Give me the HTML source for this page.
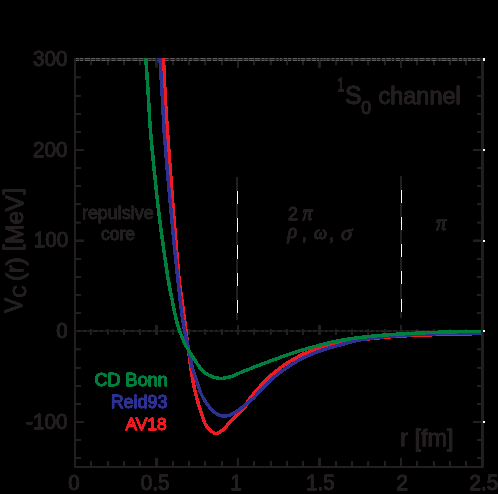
<!DOCTYPE html>
<html><head><meta charset="utf-8"><title>1S0 channel</title>
<style>html,body{margin:0;padding:0;background:#000;}body{width:498px;height:494px;overflow:hidden;}svg{display:block;will-change:transform;}text{font-family:"Liberation Sans",sans-serif;fill:#231f20;stroke:#231f20;stroke-width:0.5px;}.g{font-family:"Liberation Serif",serif;font-style:italic;}</style>
</head><body>
<svg width="498" height="494" viewBox="0 0 498 494">
<rect width="498" height="494" fill="#000"/>
<g>
<defs><filter id="hard" x="-5%" y="-5%" width="110%" height="110%" color-interpolation-filters="sRGB"><feComponentTransfer><feFuncA type="linear" slope="4" intercept="0"/></feComponentTransfer></filter><clipPath id="cp"><rect x="76" y="58" width="405.6" height="408"/></clipPath></defs>
<rect x="76" y="330.5" width="406" height="1" fill="#231f20"/>
<rect x="77.0" y="330.5" width="4.0" height="1" fill="#383536"/>
<rect x="82.5" y="330.5" width="4.0" height="1" fill="#383536"/>
<rect x="88.5" y="330.5" width="3.0" height="1" fill="#383536"/>
<rect x="93.0" y="330.5" width="5.0" height="1" fill="#383536"/>
<rect x="99.5" y="330.5" width="4.0" height="1" fill="#383536"/>
<rect x="105.5" y="330.5" width="3.0" height="1" fill="#383536"/>
<rect x="110.5" y="330.5" width="3.0" height="1" fill="#383536"/>
<rect x="115.0" y="330.5" width="3.0" height="1" fill="#383536"/>
<rect x="120.0" y="330.5" width="4.0" height="1" fill="#383536"/>
<rect x="125.5" y="330.5" width="3.0" height="1" fill="#383536"/>
<rect x="130.0" y="330.5" width="5.0" height="1" fill="#383536"/>
<rect x="137.0" y="330.5" width="3.0" height="1" fill="#383536"/>
<rect x="142.0" y="330.5" width="3.0" height="1" fill="#383536"/>
<rect x="146.5" y="330.5" width="5.0" height="1" fill="#383536"/>
<rect x="153.0" y="330.5" width="5.0" height="1" fill="#383536"/>
<rect x="160.0" y="330.5" width="4.0" height="1" fill="#383536"/>
<rect x="165.5" y="330.5" width="3.0" height="1" fill="#383536"/>
<rect x="170.0" y="330.5" width="5.0" height="1" fill="#383536"/>
<rect x="176.5" y="330.5" width="4.0" height="1" fill="#383536"/>
<rect x="182.5" y="330.5" width="3.0" height="1" fill="#383536"/>
<rect x="187.5" y="330.5" width="3.0" height="1" fill="#383536"/>
<rect x="192.5" y="330.5" width="4.0" height="1" fill="#383536"/>
<rect x="198.5" y="330.5" width="3.0" height="1" fill="#383536"/>
<rect x="203.0" y="330.5" width="5.0" height="1" fill="#383536"/>
<rect x="210.0" y="330.5" width="3.0" height="1" fill="#383536"/>
<rect x="215.0" y="330.5" width="3.0" height="1" fill="#383536"/>
<rect x="220.0" y="330.5" width="3.0" height="1" fill="#383536"/>
<rect x="225.0" y="330.5" width="3.0" height="1" fill="#383536"/>
<rect x="230.0" y="330.5" width="3.0" height="1" fill="#383536"/>
<rect x="235.0" y="330.5" width="5.0" height="1" fill="#383536"/>
<rect x="242.0" y="330.5" width="4.0" height="1" fill="#383536"/>
<rect x="248.0" y="330.5" width="5.0" height="1" fill="#383536"/>
<rect x="255.0" y="330.5" width="4.0" height="1" fill="#383536"/>
<rect x="261.0" y="330.5" width="3.0" height="1" fill="#383536"/>
<rect x="265.5" y="330.5" width="3.0" height="1" fill="#383536"/>
<rect x="270.0" y="330.5" width="5.0" height="1" fill="#383536"/>
<rect x="277.0" y="330.5" width="5.0" height="1" fill="#383536"/>
<rect x="284.0" y="330.5" width="4.0" height="1" fill="#383536"/>
<rect x="290.0" y="330.5" width="4.0" height="1" fill="#383536"/>
<rect x="296.0" y="330.5" width="5.0" height="1" fill="#383536"/>
<rect x="302.5" y="330.5" width="3.0" height="1" fill="#383536"/>
<rect x="307.5" y="330.5" width="4.0" height="1" fill="#383536"/>
<rect x="313.0" y="330.5" width="4.0" height="1" fill="#383536"/>
<rect x="318.5" y="330.5" width="4.0" height="1" fill="#383536"/>
<rect x="324.5" y="330.5" width="3.0" height="1" fill="#383536"/>
<rect x="329.5" y="330.5" width="3.0" height="1" fill="#383536"/>
<rect x="334.5" y="330.5" width="5.0" height="1" fill="#383536"/>
<rect x="341.5" y="330.5" width="4.0" height="1" fill="#383536"/>
<rect x="347.5" y="330.5" width="4.0" height="1" fill="#383536"/>
<rect x="353.5" y="330.5" width="4.0" height="1" fill="#383536"/>
<rect x="359.5" y="330.5" width="4.0" height="1" fill="#383536"/>
<rect x="365.0" y="330.5" width="3.0" height="1" fill="#383536"/>
<rect x="370.0" y="330.5" width="4.0" height="1" fill="#383536"/>
<rect x="376.0" y="330.5" width="3.0" height="1" fill="#383536"/>
<rect x="380.5" y="330.5" width="4.0" height="1" fill="#383536"/>
<rect x="386.5" y="330.5" width="5.0" height="1" fill="#383536"/>
<rect x="393.5" y="330.5" width="4.0" height="1" fill="#383536"/>
<rect x="399.5" y="330.5" width="4.0" height="1" fill="#383536"/>
<rect x="405.5" y="330.5" width="4.0" height="1" fill="#383536"/>
<rect x="411.0" y="330.5" width="4.0" height="1" fill="#383536"/>
<rect x="417.0" y="330.5" width="3.0" height="1" fill="#383536"/>
<rect x="422.0" y="330.5" width="3.0" height="1" fill="#383536"/>
<rect x="427.0" y="330.5" width="3.0" height="1" fill="#383536"/>
<rect x="431.5" y="330.5" width="4.0" height="1" fill="#383536"/>
<rect x="437.0" y="330.5" width="3.0" height="1" fill="#383536"/>
<rect x="442.0" y="330.5" width="4.0" height="1" fill="#383536"/>
<rect x="448.0" y="330.5" width="3.0" height="1" fill="#383536"/>
<rect x="452.5" y="330.5" width="4.0" height="1" fill="#383536"/>
<rect x="458.5" y="330.5" width="5.0" height="1" fill="#383536"/>
<rect x="465.5" y="330.5" width="3.0" height="1" fill="#383536"/>
<rect x="470.5" y="330.5" width="5.0" height="1" fill="#383536"/>
<rect x="477.5" y="330.5" width="2.5" height="1" fill="#383536"/>
<g filter="url(#hard)" fill="#231f20">
<rect x="74.2" y="58" width="1.6" height="409.8"/>
<rect x="481.6" y="58" width="1.8" height="409.8"/>
<rect x="74.2" y="466.2" width="409.2" height="1.6"/>
<rect x="74.2" y="58" width="409.2" height="3"/>
<rect x="90.65" y="461.2" width="1.3" height="5.4"/>
<rect x="90.65" y="60.5" width="1.3" height="4.6"/>
<rect x="90.65" y="329.3" width="1.3" height="5.3"/>
<rect x="106.95" y="461.2" width="1.3" height="5.4"/>
<rect x="106.95" y="60.5" width="1.3" height="4.6"/>
<rect x="106.95" y="329.3" width="1.3" height="5.3"/>
<rect x="123.25" y="461.2" width="1.3" height="5.4"/>
<rect x="123.25" y="60.5" width="1.3" height="4.6"/>
<rect x="123.25" y="329.3" width="1.3" height="5.3"/>
<rect x="139.55" y="461.2" width="1.3" height="5.4"/>
<rect x="139.55" y="60.5" width="1.3" height="4.6"/>
<rect x="139.55" y="329.3" width="1.3" height="5.3"/>
<rect x="155.70" y="458.1" width="1.6" height="8.5"/>
<rect x="155.70" y="60.5" width="1.6" height="7"/>
<rect x="155.70" y="325" width="1.6" height="10"/>
<rect x="172.15" y="461.2" width="1.3" height="5.4"/>
<rect x="172.15" y="60.5" width="1.3" height="4.6"/>
<rect x="172.15" y="329.3" width="1.3" height="5.3"/>
<rect x="188.45" y="461.2" width="1.3" height="5.4"/>
<rect x="188.45" y="60.5" width="1.3" height="4.6"/>
<rect x="188.45" y="329.3" width="1.3" height="5.3"/>
<rect x="204.75" y="461.2" width="1.3" height="5.4"/>
<rect x="204.75" y="60.5" width="1.3" height="4.6"/>
<rect x="204.75" y="329.3" width="1.3" height="5.3"/>
<rect x="221.05" y="461.2" width="1.3" height="5.4"/>
<rect x="221.05" y="60.5" width="1.3" height="4.6"/>
<rect x="221.05" y="329.3" width="1.3" height="5.3"/>
<rect x="237.20" y="458.1" width="1.6" height="8.5"/>
<rect x="237.20" y="60.5" width="1.6" height="7"/>
<rect x="237.20" y="325" width="1.6" height="10"/>
<rect x="253.65" y="461.2" width="1.3" height="5.4"/>
<rect x="253.65" y="60.5" width="1.3" height="4.6"/>
<rect x="253.65" y="329.3" width="1.3" height="5.3"/>
<rect x="269.95" y="461.2" width="1.3" height="5.4"/>
<rect x="269.95" y="60.5" width="1.3" height="4.6"/>
<rect x="269.95" y="329.3" width="1.3" height="5.3"/>
<rect x="286.25" y="461.2" width="1.3" height="5.4"/>
<rect x="286.25" y="60.5" width="1.3" height="4.6"/>
<rect x="286.25" y="329.3" width="1.3" height="5.3"/>
<rect x="302.55" y="461.2" width="1.3" height="5.4"/>
<rect x="302.55" y="60.5" width="1.3" height="4.6"/>
<rect x="302.55" y="329.3" width="1.3" height="5.3"/>
<rect x="318.70" y="458.1" width="1.6" height="8.5"/>
<rect x="318.70" y="60.5" width="1.6" height="7"/>
<rect x="318.70" y="325" width="1.6" height="10"/>
<rect x="335.15" y="461.2" width="1.3" height="5.4"/>
<rect x="335.15" y="60.5" width="1.3" height="4.6"/>
<rect x="335.15" y="329.3" width="1.3" height="5.3"/>
<rect x="351.45" y="461.2" width="1.3" height="5.4"/>
<rect x="351.45" y="60.5" width="1.3" height="4.6"/>
<rect x="351.45" y="329.3" width="1.3" height="5.3"/>
<rect x="367.75" y="461.2" width="1.3" height="5.4"/>
<rect x="367.75" y="60.5" width="1.3" height="4.6"/>
<rect x="367.75" y="329.3" width="1.3" height="5.3"/>
<rect x="384.05" y="461.2" width="1.3" height="5.4"/>
<rect x="384.05" y="60.5" width="1.3" height="4.6"/>
<rect x="384.05" y="329.3" width="1.3" height="5.3"/>
<rect x="400.20" y="458.1" width="1.6" height="8.5"/>
<rect x="400.20" y="60.5" width="1.6" height="7"/>
<rect x="400.20" y="325" width="1.6" height="10"/>
<rect x="416.65" y="461.2" width="1.3" height="5.4"/>
<rect x="416.65" y="60.5" width="1.3" height="4.6"/>
<rect x="416.65" y="329.3" width="1.3" height="5.3"/>
<rect x="432.95" y="461.2" width="1.3" height="5.4"/>
<rect x="432.95" y="60.5" width="1.3" height="4.6"/>
<rect x="432.95" y="329.3" width="1.3" height="5.3"/>
<rect x="449.25" y="461.2" width="1.3" height="5.4"/>
<rect x="449.25" y="60.5" width="1.3" height="4.6"/>
<rect x="449.25" y="329.3" width="1.3" height="5.3"/>
<rect x="465.55" y="461.2" width="1.3" height="5.4"/>
<rect x="465.55" y="60.5" width="1.3" height="4.6"/>
<rect x="465.55" y="329.3" width="1.3" height="5.3"/>
<rect x="75.5" y="76.81" width="5.2" height="1.3"/>
<rect x="477.2" y="76.81" width="4.7" height="1.3"/>
<rect x="75.5" y="94.95" width="5.2" height="1.3"/>
<rect x="477.2" y="94.95" width="4.7" height="1.3"/>
<rect x="75.5" y="113.08" width="5.2" height="1.3"/>
<rect x="477.2" y="113.08" width="4.7" height="1.3"/>
<rect x="75.5" y="131.21" width="5.2" height="1.3"/>
<rect x="477.2" y="131.21" width="4.7" height="1.3"/>
<rect x="75.5" y="149.20" width="8.4" height="1.6"/>
<rect x="473.1" y="149.20" width="8.8" height="1.6"/>
<rect x="75.5" y="167.48" width="5.2" height="1.3"/>
<rect x="477.2" y="167.48" width="4.7" height="1.3"/>
<rect x="75.5" y="185.61" width="5.2" height="1.3"/>
<rect x="477.2" y="185.61" width="4.7" height="1.3"/>
<rect x="75.5" y="203.75" width="5.2" height="1.3"/>
<rect x="477.2" y="203.75" width="4.7" height="1.3"/>
<rect x="75.5" y="221.88" width="5.2" height="1.3"/>
<rect x="477.2" y="221.88" width="4.7" height="1.3"/>
<rect x="75.5" y="239.86" width="8.4" height="1.6"/>
<rect x="473.1" y="239.86" width="8.8" height="1.6"/>
<rect x="75.5" y="258.15" width="5.2" height="1.3"/>
<rect x="477.2" y="258.15" width="4.7" height="1.3"/>
<rect x="75.5" y="276.28" width="5.2" height="1.3"/>
<rect x="477.2" y="276.28" width="4.7" height="1.3"/>
<rect x="75.5" y="294.41" width="5.2" height="1.3"/>
<rect x="477.2" y="294.41" width="4.7" height="1.3"/>
<rect x="75.5" y="312.55" width="5.2" height="1.3"/>
<rect x="477.2" y="312.55" width="4.7" height="1.3"/>
<rect x="75.5" y="348.81" width="5.2" height="1.3"/>
<rect x="477.2" y="348.81" width="4.7" height="1.3"/>
<rect x="75.5" y="366.95" width="5.2" height="1.3"/>
<rect x="477.2" y="366.95" width="4.7" height="1.3"/>
<rect x="75.5" y="385.08" width="5.2" height="1.3"/>
<rect x="477.2" y="385.08" width="4.7" height="1.3"/>
<rect x="75.5" y="403.21" width="5.2" height="1.3"/>
<rect x="477.2" y="403.21" width="4.7" height="1.3"/>
<rect x="75.5" y="421.20" width="8.4" height="1.6"/>
<rect x="473.1" y="421.20" width="8.8" height="1.6"/>
<rect x="75.5" y="439.48" width="5.2" height="1.3"/>
<rect x="477.2" y="439.48" width="4.7" height="1.3"/>
<rect x="75.5" y="457.61" width="5.2" height="1.3"/>
<rect x="477.2" y="457.61" width="4.7" height="1.3"/>
</g>
<rect x="76.0" y="58" width="3.0" height="1" fill="#5c5c5c"/>
<rect x="80.0" y="58" width="3.0" height="1" fill="#5c5c5c"/>
<rect x="85.0" y="58" width="5.0" height="1" fill="#5c5c5c"/>
<rect x="91.0" y="58" width="4.0" height="1" fill="#5c5c5c"/>
<rect x="96.0" y="58" width="4.0" height="1" fill="#5c5c5c"/>
<rect x="101.5" y="58" width="4.0" height="1" fill="#5c5c5c"/>
<rect x="106.5" y="58" width="3.0" height="1" fill="#5c5c5c"/>
<rect x="111.5" y="58" width="4.0" height="1" fill="#5c5c5c"/>
<rect x="117.5" y="58" width="4.0" height="1" fill="#5c5c5c"/>
<rect x="122.5" y="58" width="3.0" height="1" fill="#5c5c5c"/>
<rect x="126.5" y="58" width="4.0" height="1" fill="#5c5c5c"/>
<rect x="132.5" y="58" width="5.0" height="1" fill="#5c5c5c"/>
<rect x="138.5" y="58" width="5.0" height="1" fill="#5c5c5c"/>
<rect x="144.5" y="58" width="3.0" height="1" fill="#5c5c5c"/>
<rect x="148.5" y="58" width="3.0" height="1" fill="#5c5c5c"/>
<rect x="152.5" y="58" width="3.0" height="1" fill="#5c5c5c"/>
<rect x="157.5" y="58" width="4.0" height="1" fill="#5c5c5c"/>
<rect x="163.5" y="58" width="5.0" height="1" fill="#5c5c5c"/>
<rect x="170.5" y="58" width="4.0" height="1" fill="#5c5c5c"/>
<rect x="176.5" y="58" width="3.0" height="1" fill="#5c5c5c"/>
<rect x="181.0" y="58" width="2.0" height="1" fill="#5c5c5c"/>
<rect x="184.0" y="58" width="3.0" height="1" fill="#5c5c5c"/>
<rect x="189.0" y="58" width="3.0" height="1" fill="#5c5c5c"/>
<rect x="193.5" y="58" width="5.0" height="1" fill="#5c5c5c"/>
<rect x="200.5" y="58" width="5.0" height="1" fill="#5c5c5c"/>
<rect x="207.0" y="58" width="4.0" height="1" fill="#5c5c5c"/>
<rect x="213.0" y="58" width="4.0" height="1" fill="#5c5c5c"/>
<rect x="218.5" y="58" width="4.0" height="1" fill="#5c5c5c"/>
<rect x="224.5" y="58" width="4.0" height="1" fill="#5c5c5c"/>
<rect x="229.5" y="58" width="3.0" height="1" fill="#5c5c5c"/>
<rect x="233.5" y="58" width="3.0" height="1" fill="#5c5c5c"/>
<rect x="237.5" y="58" width="5.0" height="1" fill="#5c5c5c"/>
<rect x="244.0" y="58" width="4.0" height="1" fill="#5c5c5c"/>
<rect x="249.0" y="58" width="5.0" height="1" fill="#5c5c5c"/>
<rect x="255.0" y="58" width="5.0" height="1" fill="#5c5c5c"/>
<rect x="261.5" y="58" width="3.0" height="1" fill="#5c5c5c"/>
<rect x="265.5" y="58" width="2.0" height="1" fill="#5c5c5c"/>
<rect x="269.5" y="58" width="5.0" height="1" fill="#5c5c5c"/>
<rect x="276.5" y="58" width="2.0" height="1" fill="#5c5c5c"/>
<rect x="280.0" y="58" width="2.0" height="1" fill="#5c5c5c"/>
<rect x="284.0" y="58" width="3.0" height="1" fill="#5c5c5c"/>
<rect x="288.0" y="58" width="3.0" height="1" fill="#5c5c5c"/>
<rect x="293.0" y="58" width="4.0" height="1" fill="#5c5c5c"/>
<rect x="298.0" y="58" width="2.0" height="1" fill="#5c5c5c"/>
<rect x="301.0" y="58" width="4.0" height="1" fill="#5c5c5c"/>
<rect x="306.5" y="58" width="4.0" height="1" fill="#5c5c5c"/>
<rect x="312.0" y="58" width="4.0" height="1" fill="#5c5c5c"/>
<rect x="317.0" y="58" width="2.0" height="1" fill="#5c5c5c"/>
<rect x="320.5" y="58" width="2.0" height="1" fill="#5c5c5c"/>
<rect x="323.5" y="58" width="2.0" height="1" fill="#5c5c5c"/>
<rect x="326.5" y="58" width="3.0" height="1" fill="#5c5c5c"/>
<rect x="331.5" y="58" width="3.0" height="1" fill="#5c5c5c"/>
<rect x="336.0" y="58" width="3.0" height="1" fill="#5c5c5c"/>
<rect x="340.0" y="58" width="3.0" height="1" fill="#5c5c5c"/>
<rect x="344.5" y="58" width="3.0" height="1" fill="#5c5c5c"/>
<rect x="348.5" y="58" width="4.0" height="1" fill="#5c5c5c"/>
<rect x="354.5" y="58" width="4.0" height="1" fill="#5c5c5c"/>
<rect x="360.5" y="58" width="5.0" height="1" fill="#5c5c5c"/>
<rect x="366.5" y="58" width="4.0" height="1" fill="#5c5c5c"/>
<rect x="372.0" y="58" width="4.0" height="1" fill="#5c5c5c"/>
<rect x="377.0" y="58" width="3.0" height="1" fill="#5c5c5c"/>
<rect x="382.0" y="58" width="3.0" height="1" fill="#5c5c5c"/>
<rect x="386.5" y="58" width="4.0" height="1" fill="#5c5c5c"/>
<rect x="392.0" y="58" width="2.0" height="1" fill="#5c5c5c"/>
<rect x="396.0" y="58" width="4.0" height="1" fill="#5c5c5c"/>
<rect x="401.5" y="58" width="2.0" height="1" fill="#5c5c5c"/>
<rect x="405.5" y="58" width="4.0" height="1" fill="#5c5c5c"/>
<rect x="410.5" y="58" width="2.0" height="1" fill="#5c5c5c"/>
<rect x="414.0" y="58" width="4.0" height="1" fill="#5c5c5c"/>
<rect x="419.5" y="58" width="5.0" height="1" fill="#5c5c5c"/>
<rect x="426.0" y="58" width="4.0" height="1" fill="#5c5c5c"/>
<rect x="431.5" y="58" width="5.0" height="1" fill="#5c5c5c"/>
<rect x="438.5" y="58" width="2.0" height="1" fill="#5c5c5c"/>
<rect x="441.5" y="58" width="5.0" height="1" fill="#5c5c5c"/>
<rect x="447.5" y="58" width="3.0" height="1" fill="#5c5c5c"/>
<rect x="452.0" y="58" width="5.0" height="1" fill="#5c5c5c"/>
<rect x="459.0" y="58" width="3.0" height="1" fill="#5c5c5c"/>
<rect x="463.5" y="58" width="3.0" height="1" fill="#5c5c5c"/>
<rect x="468.0" y="58" width="3.0" height="1" fill="#5c5c5c"/>
<rect x="472.5" y="58" width="3.0" height="1" fill="#5c5c5c"/>
<rect x="477.0" y="58" width="3.0" height="1" fill="#5c5c5c"/>
<rect x="76.0" y="60" width="3.0" height="1" fill="#5c5c5c"/>
<rect x="80.0" y="60" width="3.0" height="1" fill="#5c5c5c"/>
<rect x="85.0" y="60" width="5.0" height="1" fill="#5c5c5c"/>
<rect x="91.0" y="60" width="4.0" height="1" fill="#5c5c5c"/>
<rect x="96.0" y="60" width="4.0" height="1" fill="#5c5c5c"/>
<rect x="101.5" y="60" width="4.0" height="1" fill="#5c5c5c"/>
<rect x="106.5" y="60" width="3.0" height="1" fill="#5c5c5c"/>
<rect x="111.5" y="60" width="4.0" height="1" fill="#5c5c5c"/>
<rect x="117.5" y="60" width="4.0" height="1" fill="#5c5c5c"/>
<rect x="122.5" y="60" width="3.0" height="1" fill="#5c5c5c"/>
<rect x="126.5" y="60" width="4.0" height="1" fill="#5c5c5c"/>
<rect x="132.5" y="60" width="5.0" height="1" fill="#5c5c5c"/>
<rect x="138.5" y="60" width="5.0" height="1" fill="#5c5c5c"/>
<rect x="144.5" y="60" width="3.0" height="1" fill="#5c5c5c"/>
<rect x="148.5" y="60" width="3.0" height="1" fill="#5c5c5c"/>
<rect x="152.5" y="60" width="3.0" height="1" fill="#5c5c5c"/>
<rect x="157.5" y="60" width="4.0" height="1" fill="#5c5c5c"/>
<rect x="163.5" y="60" width="5.0" height="1" fill="#5c5c5c"/>
<rect x="170.5" y="60" width="4.0" height="1" fill="#5c5c5c"/>
<rect x="176.5" y="60" width="3.0" height="1" fill="#5c5c5c"/>
<rect x="181.0" y="60" width="2.0" height="1" fill="#5c5c5c"/>
<rect x="184.0" y="60" width="3.0" height="1" fill="#5c5c5c"/>
<rect x="189.0" y="60" width="3.0" height="1" fill="#5c5c5c"/>
<rect x="193.5" y="60" width="5.0" height="1" fill="#5c5c5c"/>
<rect x="200.5" y="60" width="5.0" height="1" fill="#5c5c5c"/>
<rect x="207.0" y="60" width="4.0" height="1" fill="#5c5c5c"/>
<rect x="213.0" y="60" width="4.0" height="1" fill="#5c5c5c"/>
<rect x="218.5" y="60" width="4.0" height="1" fill="#5c5c5c"/>
<rect x="224.5" y="60" width="4.0" height="1" fill="#5c5c5c"/>
<rect x="229.5" y="60" width="3.0" height="1" fill="#5c5c5c"/>
<rect x="233.5" y="60" width="3.0" height="1" fill="#5c5c5c"/>
<rect x="237.5" y="60" width="5.0" height="1" fill="#5c5c5c"/>
<rect x="244.0" y="60" width="4.0" height="1" fill="#5c5c5c"/>
<rect x="249.0" y="60" width="5.0" height="1" fill="#5c5c5c"/>
<rect x="255.0" y="60" width="5.0" height="1" fill="#5c5c5c"/>
<rect x="261.5" y="60" width="3.0" height="1" fill="#5c5c5c"/>
<rect x="265.5" y="60" width="2.0" height="1" fill="#5c5c5c"/>
<rect x="269.5" y="60" width="5.0" height="1" fill="#5c5c5c"/>
<rect x="276.5" y="60" width="2.0" height="1" fill="#5c5c5c"/>
<rect x="280.0" y="60" width="2.0" height="1" fill="#5c5c5c"/>
<rect x="284.0" y="60" width="3.0" height="1" fill="#5c5c5c"/>
<rect x="288.0" y="60" width="3.0" height="1" fill="#5c5c5c"/>
<rect x="293.0" y="60" width="4.0" height="1" fill="#5c5c5c"/>
<rect x="298.0" y="60" width="2.0" height="1" fill="#5c5c5c"/>
<rect x="301.0" y="60" width="4.0" height="1" fill="#5c5c5c"/>
<rect x="306.5" y="60" width="4.0" height="1" fill="#5c5c5c"/>
<rect x="312.0" y="60" width="4.0" height="1" fill="#5c5c5c"/>
<rect x="317.0" y="60" width="2.0" height="1" fill="#5c5c5c"/>
<rect x="320.5" y="60" width="2.0" height="1" fill="#5c5c5c"/>
<rect x="323.5" y="60" width="2.0" height="1" fill="#5c5c5c"/>
<rect x="326.5" y="60" width="3.0" height="1" fill="#5c5c5c"/>
<rect x="331.5" y="60" width="3.0" height="1" fill="#5c5c5c"/>
<rect x="336.0" y="60" width="3.0" height="1" fill="#5c5c5c"/>
<rect x="340.0" y="60" width="3.0" height="1" fill="#5c5c5c"/>
<rect x="344.5" y="60" width="3.0" height="1" fill="#5c5c5c"/>
<rect x="348.5" y="60" width="4.0" height="1" fill="#5c5c5c"/>
<rect x="354.5" y="60" width="4.0" height="1" fill="#5c5c5c"/>
<rect x="360.5" y="60" width="5.0" height="1" fill="#5c5c5c"/>
<rect x="366.5" y="60" width="4.0" height="1" fill="#5c5c5c"/>
<rect x="372.0" y="60" width="4.0" height="1" fill="#5c5c5c"/>
<rect x="377.0" y="60" width="3.0" height="1" fill="#5c5c5c"/>
<rect x="382.0" y="60" width="3.0" height="1" fill="#5c5c5c"/>
<rect x="386.5" y="60" width="4.0" height="1" fill="#5c5c5c"/>
<rect x="392.0" y="60" width="2.0" height="1" fill="#5c5c5c"/>
<rect x="396.0" y="60" width="4.0" height="1" fill="#5c5c5c"/>
<rect x="401.5" y="60" width="2.0" height="1" fill="#5c5c5c"/>
<rect x="405.5" y="60" width="4.0" height="1" fill="#5c5c5c"/>
<rect x="410.5" y="60" width="2.0" height="1" fill="#5c5c5c"/>
<rect x="414.0" y="60" width="4.0" height="1" fill="#5c5c5c"/>
<rect x="419.5" y="60" width="5.0" height="1" fill="#5c5c5c"/>
<rect x="426.0" y="60" width="4.0" height="1" fill="#5c5c5c"/>
<rect x="431.5" y="60" width="5.0" height="1" fill="#5c5c5c"/>
<rect x="438.5" y="60" width="2.0" height="1" fill="#5c5c5c"/>
<rect x="441.5" y="60" width="5.0" height="1" fill="#5c5c5c"/>
<rect x="447.5" y="60" width="3.0" height="1" fill="#5c5c5c"/>
<rect x="452.0" y="60" width="5.0" height="1" fill="#5c5c5c"/>
<rect x="459.0" y="60" width="3.0" height="1" fill="#5c5c5c"/>
<rect x="463.5" y="60" width="3.0" height="1" fill="#5c5c5c"/>
<rect x="468.0" y="60" width="3.0" height="1" fill="#5c5c5c"/>
<rect x="472.5" y="60" width="3.0" height="1" fill="#5c5c5c"/>
<rect x="477.0" y="60" width="3.0" height="1" fill="#5c5c5c"/>
<rect x="483" y="149" width="2" height="2" fill="#fff" shape-rendering="crispEdges"/>
<rect x="483" y="240" width="2" height="2" fill="#fff" shape-rendering="crispEdges"/>
<rect x="483" y="330" width="2" height="2" fill="#fff" shape-rendering="crispEdges"/>
<rect x="483" y="421" width="2" height="2" fill="#fff" shape-rendering="crispEdges"/>
<rect x="483" y="58" width="2" height="3" fill="#fff" shape-rendering="crispEdges"/>
<g clip-path="url(#cp)" fill="none" stroke-width="3.5" stroke-linejoin="round" shape-rendering="crispEdges">
<path d="M163.00 50.00 C163.08 51.50 163.10 50.67 163.50 59.00 C163.90 67.33 164.75 88.17 165.40 100.00 C166.05 111.83 166.58 118.33 167.40 130.00 C168.22 141.67 169.32 156.67 170.30 170.00 C171.28 183.33 172.32 197.50 173.30 210.00 C174.28 222.50 175.22 233.33 176.20 245.00 C177.18 256.67 178.25 270.83 179.20 280.00 C180.15 289.17 181.00 293.33 181.90 300.00 C182.80 306.67 183.92 314.83 184.60 320.00 C185.28 325.17 185.48 326.95 186.00 331.00 C186.52 335.05 187.15 340.07 187.70 344.30 C188.25 348.53 188.77 352.35 189.30 356.40 C189.83 360.45 190.47 365.50 190.90 368.60 C191.33 371.70 191.37 371.92 191.90 375.00 C192.43 378.08 193.23 383.05 194.10 387.10 C194.97 391.15 195.98 395.25 197.10 399.30 C198.22 403.35 199.48 407.35 200.80 411.40 C202.12 415.45 203.48 420.50 205.00 423.60 C206.52 426.70 208.07 428.35 209.90 430.00 C211.73 431.65 213.87 433.50 216.00 433.50 C218.13 433.50 220.58 431.65 222.70 430.00 C224.82 428.35 226.48 425.88 228.70 423.60 C230.92 421.32 233.77 418.53 236.00 416.30 C238.23 414.07 240.52 411.83 242.10 410.20 C243.68 408.57 244.35 408.27 245.50 406.50 C246.65 404.73 246.90 402.57 249.00 399.60 C251.10 396.63 255.08 392.17 258.10 388.70 C261.12 385.23 264.10 381.72 267.10 378.80 C270.10 375.88 273.08 373.62 276.10 371.20 C279.12 368.78 282.18 366.35 285.20 364.30 C288.22 362.25 291.18 360.62 294.20 358.90 C297.22 357.18 300.28 355.35 303.30 354.00 C306.32 352.65 309.30 351.85 312.30 350.80 C315.30 349.75 318.35 348.60 321.30 347.70 C324.25 346.80 326.88 346.17 330.00 345.40 C333.12 344.63 335.67 343.97 340.00 343.10 C344.33 342.23 350.65 340.95 356.00 340.20 C361.35 339.45 366.73 339.13 372.10 338.60 C377.47 338.07 382.83 337.45 388.20 337.00 C393.57 336.55 399.00 336.22 404.30 335.90 C409.60 335.58 413.72 335.33 420.00 335.10 C426.28 334.87 435.33 334.67 442.00 334.50 C448.67 334.33 453.42 334.27 460.00 334.10 C466.58 333.93 477.92 333.60 481.50 333.50" stroke="#ed1c24"/>
<path d="M159.50 50.00 C159.58 51.50 159.50 50.67 160.00 59.00 C160.50 67.33 161.82 88.17 162.50 100.00 C163.18 111.83 163.30 118.33 164.10 130.00 C164.90 141.67 166.17 156.67 167.30 170.00 C168.43 183.33 169.73 197.50 170.90 210.00 C172.07 222.50 173.13 233.33 174.30 245.00 C175.47 256.67 176.92 270.83 177.90 280.00 C178.88 289.17 179.39 293.33 180.20 300.00 C181.01 306.67 182.02 314.83 182.75 320.00 C183.48 325.17 183.79 326.95 184.60 331.00 C185.41 335.05 186.70 340.07 187.60 344.30 C188.50 348.53 189.18 352.35 190.00 356.40 C190.82 360.45 191.72 365.50 192.50 368.60 C193.28 371.70 193.82 372.32 194.70 375.00 C195.57 377.68 196.63 381.47 197.75 384.70 C198.87 387.93 199.97 391.37 201.40 394.40 C202.83 397.43 204.48 400.27 206.30 402.90 C208.12 405.53 210.38 408.27 212.30 410.20 C214.22 412.13 215.87 413.52 217.80 414.50 C219.73 415.48 221.67 416.10 223.90 416.10 C226.13 416.10 228.78 415.48 231.20 414.50 C233.62 413.52 236.10 411.77 238.40 410.20 C240.70 408.63 242.72 406.90 245.00 405.10 C247.28 403.30 249.92 401.37 252.10 399.40 C254.28 397.43 255.60 395.88 258.10 393.30 C260.60 390.72 264.10 386.87 267.10 383.90 C270.10 380.93 273.08 378.00 276.10 375.50 C279.12 373.00 282.18 371.00 285.20 368.90 C288.22 366.80 291.18 364.72 294.20 362.90 C297.22 361.08 300.28 359.50 303.30 358.00 C306.32 356.50 309.30 355.17 312.30 353.90 C315.30 352.63 318.35 351.43 321.30 350.40 C324.25 349.37 326.88 348.60 330.00 347.70 C333.12 346.80 335.67 346.17 340.00 345.00 C344.33 343.83 350.65 341.87 356.00 340.70 C361.35 339.53 366.73 338.72 372.10 338.00 C377.47 337.28 382.83 336.87 388.20 336.40 C393.57 335.93 399.00 335.55 404.30 335.20 C409.60 334.85 413.72 334.57 420.00 334.30 C426.28 334.03 435.33 333.78 442.00 333.60 C448.67 333.42 453.42 333.30 460.00 333.20 C466.58 333.10 477.92 333.03 481.50 333.00" stroke="#2e3192"/>
<path d="M145.30 50.00 C145.40 51.50 145.35 50.67 145.90 59.00 C146.45 67.33 147.85 88.17 148.60 100.00 C149.35 111.83 149.47 118.33 150.40 130.00 C151.33 141.67 152.85 156.67 154.20 170.00 C155.55 183.33 157.02 197.50 158.50 210.00 C159.98 222.50 161.47 233.33 163.10 245.00 C164.73 256.67 166.78 270.83 168.30 280.00 C169.82 289.17 170.87 293.33 172.20 300.00 C173.53 306.67 175.05 314.83 176.30 320.00 C177.55 325.17 178.22 326.95 179.70 331.00 C181.18 335.05 183.07 340.07 185.20 344.30 C187.33 348.53 189.87 352.28 192.50 356.40 C195.13 360.52 198.27 365.85 201.00 369.00 C203.73 372.15 205.80 373.73 208.90 375.30 C212.00 376.87 216.00 378.15 219.60 378.40 C223.20 378.65 227.10 377.73 230.50 376.80 C233.90 375.87 236.92 374.07 240.00 372.80 C243.08 371.53 245.98 370.40 249.00 369.20 C252.02 368.00 253.58 367.32 258.10 365.60 C262.62 363.88 270.08 361.07 276.10 358.90 C282.12 356.73 288.17 354.55 294.20 352.60 C300.23 350.65 306.33 348.86 312.30 347.20 C318.27 345.54 325.38 343.77 330.00 342.65 C334.62 341.53 335.67 341.27 340.00 340.50 C344.33 339.73 350.65 338.72 356.00 338.00 C361.35 337.28 366.73 336.73 372.10 336.20 C377.47 335.67 382.83 335.20 388.20 334.80 C393.57 334.40 399.00 334.10 404.30 333.80 C409.60 333.50 413.72 333.28 420.00 333.00 C426.28 332.72 435.33 332.32 442.00 332.10 C448.67 331.88 453.42 331.82 460.00 331.70 C466.58 331.58 477.92 331.45 481.50 331.40" stroke="#007f3e"/>
</g>
<g shape-rendering="crispEdges">
<rect x="236" y="176.80" width="2" height="142.80" fill="#231f20"/>
<rect x="236" y="191.40" width="2" height="12.80" fill="#000"/>
<rect x="237" y="191.40" width="1" height="12.80" fill="#fff"/>
<rect x="236" y="218.30" width="2" height="13.20" fill="#000"/>
<rect x="237" y="218.30" width="1" height="13.20" fill="#fff"/>
<rect x="236" y="245.30" width="2" height="13.40" fill="#000"/>
<rect x="237" y="245.30" width="1" height="13.40" fill="#fff"/>
<rect x="236" y="272.60" width="2" height="13.40" fill="#000"/>
<rect x="237" y="272.60" width="1" height="13.40" fill="#fff"/>
<rect x="236" y="299.90" width="2" height="13.30" fill="#000"/>
<rect x="237" y="299.90" width="1" height="13.30" fill="#fff"/>
</g>
<g shape-rendering="crispEdges">
<rect x="400" y="175.70" width="2" height="142.00" fill="#231f20"/>
<rect x="400" y="189.80" width="2" height="13.10" fill="#000"/>
<rect x="401" y="189.80" width="1" height="13.10" fill="#fff"/>
<rect x="400" y="217.00" width="2" height="12.90" fill="#000"/>
<rect x="401" y="217.00" width="1" height="12.90" fill="#fff"/>
<rect x="400" y="244.20" width="2" height="13.10" fill="#000"/>
<rect x="401" y="244.20" width="1" height="13.10" fill="#fff"/>
<rect x="400" y="271.40" width="2" height="12.90" fill="#000"/>
<rect x="401" y="271.40" width="1" height="12.90" fill="#fff"/>
<rect x="400" y="298.60" width="2" height="12.90" fill="#000"/>
<rect x="401" y="298.60" width="1" height="12.90" fill="#fff"/>
</g>
<g filter="url(#hard)">
<text transform="translate(33.10 66.00) scale(0.965 1)" font-size="21.40">300</text>
<text transform="translate(33.10 157.00) scale(0.965 1)" font-size="21.40">200</text>
<text transform="translate(33.86 247.00) scale(0.965 1)" font-size="21.40">100</text>
<text transform="translate(56.30 338.00) scale(0.965 1)" font-size="21.40">0</text>
<text transform="translate(26.12 429.00) scale(0.965 1)" font-size="21.40">-100</text>
<text transform="translate(68.21 489.56) scale(0.965 1)" font-size="21.40">0</text>
<text transform="translate(140.68 489.70) scale(0.965 1)" font-size="21.40">0.5</text>
<text transform="translate(230.26 489.70) scale(0.965 1)" font-size="21.40">1</text>
<text transform="translate(306.04 489.70) scale(0.965 1)" font-size="21.40">1.5</text>
<text transform="translate(396.40 489.70) scale(0.965 1)" font-size="21.40">2</text>
<text transform="translate(469.48 489.70) scale(0.965 1)" font-size="21.40">2.5</text>
<text transform="translate(400.28 446.30)" font-size="23.43">r [fm]</text>
<text transform="translate(81.94 219.10)" font-size="17.91">repulsive</text>
<text transform="translate(101.00 240.20)" font-size="17.49">core</text>
<text transform="translate(94.42 385.80)" font-size="18.10" style="fill:#007f3e;stroke:#007f3e">CD Bonn</text>
<text transform="translate(110.65 407.50)" font-size="17.95" style="fill:#2e3192;stroke:#2e3192">Reid93</text>
<text transform="translate(125.41 429.70)" font-size="17.40" style="fill:#ed1c24;stroke:#ed1c24">AV18</text>
<text transform="translate(288.00 219.61)" font-size="17.90">2</text>
<text transform="translate(302.55 220.00) scale(0.950 1)" font-size="21.00" class="g">π</text>
<text transform="translate(287.47 238.40) scale(0.980 1)" font-size="20.80" class="g">ρ</text>
<text transform="translate(301.71 240.30)" font-size="18.00">,</text>
<text transform="translate(313.70 239.00) scale(0.960 1)" font-size="19.80" class="g">ω</text>
<text transform="translate(328.91 240.30)" font-size="18.00">,</text>
<text transform="translate(341.12 240.00) scale(1.150 1)" font-size="20.00" class="g">σ</text>
<text transform="translate(436.08 230.00) scale(0.980 1)" font-size="21.40" class="g">π</text>
<text transform="translate(337.25 90.96) scale(0.680 1)" font-size="18.80">1</text>
<text transform="translate(345.12 104.40) scale(0.950 1)" font-size="26.20">S</text>
<text transform="translate(361.29 113.72) scale(0.950 1)" font-size="18.80">0</text>
<text transform="translate(378.50 104.40)" font-size="23.48">channel</text>
<text transform="translate(21.60 312.67) rotate(-90) scale(0.900 1)" font-size="24.40">V</text>
<text transform="translate(25.74 297.59) rotate(-90) scale(0.920 1)" font-size="18.40">C</text>
<text transform="translate(22.80 281.00) rotate(-90)" font-size="23.80">(r)</text>
<text transform="translate(22.80 243.90) rotate(-90)" font-size="23.57">MeV</text>
<text transform="translate(19.60 251.00) rotate(-90)" font-size="24.00">[</text>
<text transform="translate(19.60 194.70) rotate(-90)" font-size="24.00">]</text>
</g>
</g>
</svg></body></html>
